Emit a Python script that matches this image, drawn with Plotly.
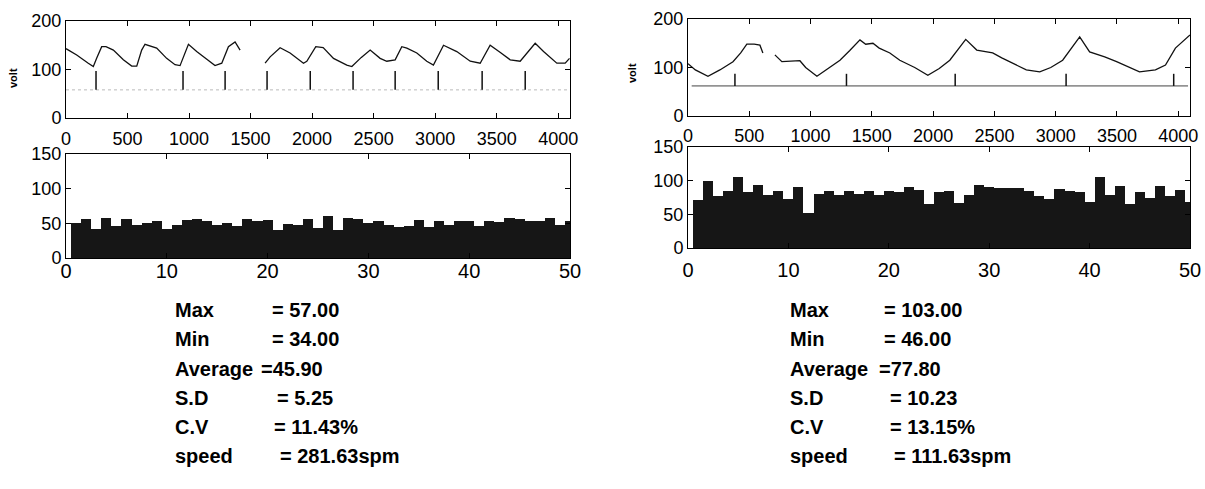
import plotly.graph_objects as go

# ---------------- data ----------------
# Left: signal (sample index vs volt)
left_sig_s = [0, 87, 181, 222, 249, 290, 325, 385, 466, 534, 575, 615, 642, 737, 818, 886, 927,
              995, 1062, 1144, 1211, 1266, 1320, 1374, 1415, None,
              1618, 1659, 1740, 1821, 1930, 1957, 2030, 2090, 2174, 2282, 2323, 2400, 2472,
              2553, 2607, 2675, 2729, 2770, 2851, 2932, 2986, 3068, 3176, 3285, 3366, 3447,
              3530, 3610, 3691, 3813, 3881, 3989, 4057, 4092]
left_sig_v = [143, 130, 113, 106, 123, 147, 147, 140, 120, 107, 107, 140, 152, 144, 123, 110, 108,
              152, 137, 120, 108, 113, 147, 157, 140, None,
              113, 126, 145, 134, 113, 117, 147, 145, 123, 109, 106, 125, 140,
              123, 117, 120, 147, 144, 134, 117, 109, 150, 137, 117, 113, 150,
              135, 120, 117, 154, 137, 113, 113, 123]
left_pulse_pos = [244, 951, 1293, 1634, 1985, 2333, 2675, 3025, 3382, 3732]
left_pulse_low = 58
left_pulse_high = 97

# Left: per-stroke values (50 strokes)
left_bars = [51, 56, 42, 57, 46, 56, 48, 51, 54, 42,
             48, 55, 56, 53, 48, 51, 46, 56, 53, 55,
             41, 49, 47, 56, 43, 61, 41, 57, 56, 50,
             53, 48, 45, 46, 55, 45, 53, 47, 53, 53,
             46, 53, 52, 57, 56, 54, 54, 57, 48, 54]

# Right: signal
right_sig_s = [0, 60, 163, 260, 367, 430, 480, 540, 587, 611, None,
               709, 766, 913, 960, 1052, 1140, 1240, 1320, 1403, 1450, 1509, 1560, 1647, 1728,
               1753, 1850, 1957, 2050, 2136, 2266, 2356, 2486, 2560, 2650, 2760, 2870, 2960,
               3057, 3130, 3196, 3277, 3400, 3497, 3600, 3684, 3814, 3896, 3977, 4096]
right_sig_v = [108, 95, 82, 95, 112, 130, 148, 148, 146, 130, None,
               126, 112, 114, 100, 82, 98, 115, 135, 157, 148, 150, 140, 130, 115,
               112, 100, 84, 98, 115, 158, 136, 130, 120, 109, 95, 91, 100,
               115, 140, 163, 132, 122, 112, 100, 91, 95, 105, 140, 167]
right_base_s = [30, 4080]
right_pulse_pos = [383, 1293, 2180, 3085, 3963]
right_pulse_low = 62
right_pulse_high = 87

right_bars = [71, 99, 77, 85, 106, 83, 94, 79, 85, 73,
              90, 52, 80, 84, 79, 85, 80, 84, 79, 84,
              83, 90, 86, 66, 83, 85, 67, 79, 94, 91,
              89, 89, 89, 85, 77, 73, 88, 85, 83, 69,
              105, 79, 92, 66, 83, 74, 92, 77, 86, 69]

stroke_idx = list(range(1, 51))

stat_labels = ["Max", "Min", "Average", "S.D", "C.V", "speed"]
left_stats = ["= 57.00", "= 34.00", "=45.90", "= 5.25", "= 11.43%", "= 281.63spm"]
right_stats = ["= 103.00", "= 46.00", "=77.80", "= 10.23", "= 13.15%", "= 111.63spm"]

x_ticks_sig = [0, 500, 1000, 1500, 2000, 2500, 3000, 3500, 4000]
y_ticks_sig = [0, 100, 200]
x_ticks_bar = [0, 10, 20, 30, 40, 50]
y_ticks_bar = [0, 50, 100, 150]

# ---------------- figure ----------------
W, H = 1205, 489
FONT = "Liberation Sans, Arial, sans-serif"
INK = "#111111"

def px_x(p):
    return p / W

def px_y(p):
    return 1 - p / H

def pulses(pos, lo, hi):
    xs, ys = [], []
    for p in pos:
        xs += [p, p, None]
        ys += [lo, hi, None]
    return xs, ys

fig = go.Figure()

fig.add_trace(go.Scatter(x=left_sig_s, y=left_sig_v, mode="lines",
                         line=dict(color=INK, width=1.3), xaxis="x", yaxis="y",
                         connectgaps=False, showlegend=False))
lx, ly = pulses(left_pulse_pos, left_pulse_low, left_pulse_high)
fig.add_trace(go.Scatter(x=[0, 4096], y=[left_pulse_low, left_pulse_low], mode="lines",
                         line=dict(color="#bbbbbb", width=1, dash="dot"),
                         xaxis="x", yaxis="y", showlegend=False))
fig.add_trace(go.Scatter(x=lx, y=ly, mode="lines", line=dict(color=INK, width=1.5),
                         xaxis="x", yaxis="y", showlegend=False))

fig.add_trace(go.Bar(x=stroke_idx, y=left_bars, width=1, marker=dict(color="#161616", line=dict(width=0)),
                     xaxis="x2", yaxis="y2", showlegend=False))

fig.add_trace(go.Scatter(x=right_sig_s, y=right_sig_v, mode="lines",
                         line=dict(color=INK, width=1.3), xaxis="x3", yaxis="y3",
                         connectgaps=False, showlegend=False))
fig.add_trace(go.Scatter(x=right_base_s, y=[right_pulse_low, right_pulse_low], mode="lines",
                         line=dict(color="#444444", width=1), xaxis="x3", yaxis="y3", showlegend=False))
rx, ry = pulses(right_pulse_pos, right_pulse_low, right_pulse_high)
fig.add_trace(go.Scatter(x=rx, y=ry, mode="lines", line=dict(color=INK, width=1.5),
                         xaxis="x3", yaxis="y3", showlegend=False))

fig.add_trace(go.Bar(x=stroke_idx, y=right_bars, width=1, marker=dict(color="#161616", line=dict(width=0)),
                     xaxis="x4", yaxis="y4", showlegend=False))

def ax(domain, rng, ticks, anchor, size=18, standoff=0):
    return dict(domain=domain, range=rng, tickvals=ticks, anchor=anchor, automargin=False,
                showline=True, linecolor="black", linewidth=1, mirror="ticks",
                ticks="inside", ticklen=5, tickcolor="black", showgrid=False, zeroline=False,
                tickfont=dict(family=FONT, size=size, color="black"), fixedrange=True,
                ticklabelstandoff=standoff)

LX = [px_x(66), px_x(570)]
RX = [px_x(688), px_x(1190)]

fig.update_layout(
    width=W, height=H, margin=dict(l=0, r=0, t=0, b=0, pad=0, autoexpand=False),
    paper_bgcolor="white", plot_bgcolor="white", bargap=0, barmode="overlay",
    hovermode=False,
    xaxis=ax(LX, [0, 4096], x_ticks_sig, "y", 18, 4),
    yaxis=ax([px_y(118), px_y(21)], [0, 200], y_ticks_sig, "x", 18, 0),
    xaxis2=ax(LX, [0, 50], x_ticks_bar, "y2", 20, -5),
    yaxis2=ax([px_y(258), px_y(154)], [0, 150], y_ticks_bar, "x2", 18, 0),
    xaxis3=ax(RX, [0, 4096], x_ticks_sig, "y3", 18, 3),
    yaxis3=ax([px_y(116), px_y(19)], [0, 200], y_ticks_sig, "x3", 18, 0),
    xaxis4=ax(RX, [0, 50], x_ticks_bar, "y4", 20, 4),
    yaxis4=ax([px_y(248), px_y(147)], [0, 150], y_ticks_bar, "x4", 18, 0),
)

annos = []
# y-axis titles
for xp, yp in [(13, 78), (632, 73)]:
    annos.append(dict(text="volt", x=px_x(xp), y=px_y(yp), xref="paper", yref="paper",
                      showarrow=False, textangle=-90, xanchor="center", yanchor="middle",
                      font=dict(family=FONT, size=11, color="black", weight="bold")))

row_y = [310, 339, 369, 398, 427, 456]
left_val_x = [270, 270, 259, 275, 272, 278]
right_val_x = [882, 882, 877, 888, 888, 892]
for i, lab in enumerate(stat_labels):
    for lab_x, vx, vals in [(173, left_val_x, left_stats), (788, right_val_x, right_stats)]:
        annos.append(dict(text=lab, x=px_x(lab_x), y=px_y(row_y[i]), xref="paper", yref="paper",
                          showarrow=False, xanchor="left", yanchor="middle",
                          font=dict(family=FONT, size=20, color="black", weight="bold")))
        annos.append(dict(text=vals[i], x=px_x(vx[i]), y=px_y(row_y[i]), xref="paper", yref="paper",
                          showarrow=False, xanchor="left", yanchor="middle",
                          font=dict(family=FONT, size=20, color="black", weight="bold")))
fig.update_layout(annotations=annos)

# remove the browser's default page margin so the figure fills the window exactly
fig.write_html("out.html", config={"displayModeBar": False, "staticPlot": True},
               post_script="document.body.style.margin='0';document.body.style.overflow='hidden';")
